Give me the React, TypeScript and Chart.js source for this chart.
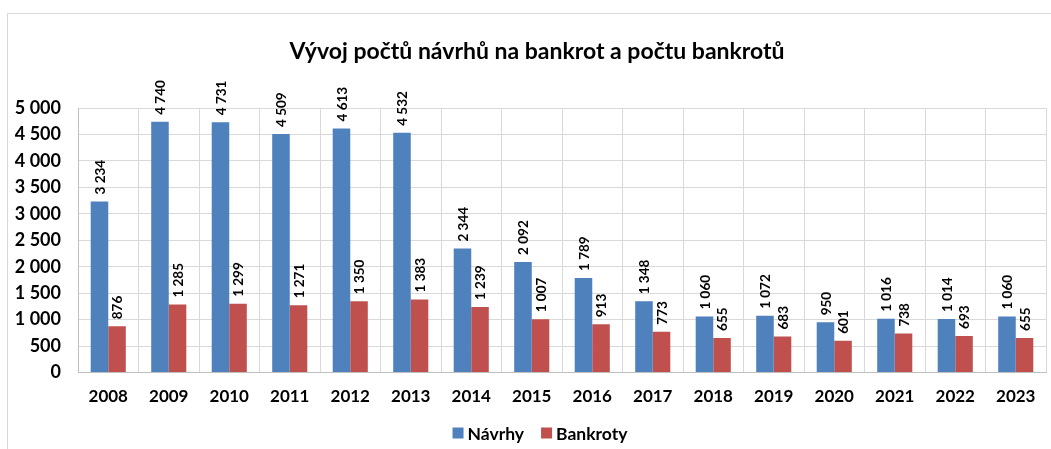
import React, { useEffect, useRef } from "react";
import { Chart, registerables } from "chart.js";

Chart.register(...registerables);

const years = ["2008", "2009", "2010", "2011", "2012", "2013", "2014", "2015", "2016", "2017", "2018", "2019", "2020", "2021", "2022", "2023"];
const navrhy = [3234, 4740, 4731, 4509, 4613, 4532, 2344, 2092, 1789, 1348, 1060, 1072, 950, 1016, 1014, 1060];
const bankroty = [876, 1285, 1299, 1271, 1350, 1383, 1239, 1007, 913, 773, 655, 683, 601, 738, 693, 655];
const titleText = "Vývoj počtů návrhů na bankrot a počtu bankrotů";
const seriesNames = ["Návrhy", "Bankroty"];
const seriesColors = ["#4F81BD", "#C0504D"];

const FONT = "Lato, 'Open Sans', sans-serif";

const fmt = (v: number) => {
  const s = String(Math.round(v));
  return s.replace(/\B(?=(\d{3})+(?!\d))/g, " ");
};

const labelPlugin = {
  id: "barLabels",
  afterDatasetsDraw(chart: any) {
    const ctx = chart.ctx;
    ctx.save();
    ctx.font = `bold 13.5px ${FONT}`;
    ctx.fillStyle = "#000";
    ctx.textAlign = "left";
    ctx.textBaseline = "middle";
    chart.data.datasets.forEach((ds: any, i: number) => {
      const meta = chart.getDatasetMeta(i);
      meta.data.forEach((el: any, j: number) => {
        ctx.save();
        ctx.translate(el.x, el.y - 7);
        ctx.rotate(-Math.PI / 2);
        ctx.fillText(fmt(ds.data[j]), 0, 1);
        ctx.restore();
      });
    });
    ctx.restore();
  },
};

const titleLegendPlugin = {
  id: "titleLegend",
  afterDraw(chart: any) {
    const ctx = chart.ctx;
    ctx.save();
    ctx.font = `bold 23px ${FONT}`;
    ctx.fillStyle = "#000";
    ctx.textAlign = "center";
    ctx.textBaseline = "middle";
    ctx.fillText(titleText, 537, 52);
    ctx.font = `bold 17.5px ${FONT}`;
    ctx.textAlign = "left";
    const box = 11;
    const gapBoxText = 4;
    const gapItems = 17;
    const widths = seriesNames.map((n) => ctx.measureText(n).width);
    const total = widths.reduce((a, w) => a + box + gapBoxText + w, 0) + gapItems * (seriesNames.length - 1);
    let x = 540 - total / 2;
    const cy = 433;
    seriesNames.forEach((n, i) => {
      ctx.fillStyle = seriesColors[i];
      ctx.fillRect(x, cy - box / 2, box, box);
      x += box + gapBoxText;
      ctx.fillStyle = "#000";
      ctx.fillText(n, x, cy + 1);
      x += widths[i] + gapItems;
    });
    ctx.restore();
  },
};

export default function App() {
  const ref = useRef<HTMLCanvasElement>(null);
  useEffect(() => {
    document.body.style.margin = "0";
    const chart = new Chart(ref.current!, {
      type: "bar",
      data: {
        labels: years,
        datasets: [
          { label: seriesNames[0], data: navrhy, backgroundColor: seriesColors[0], categoryPercentage: 0.58, barPercentage: 1 },
          { label: seriesNames[1], data: bankroty, backgroundColor: seriesColors[1], categoryPercentage: 0.58, barPercentage: 1 },
        ],
      },
      options: {
        animation: false,
        responsive: true,
        maintainAspectRatio: false,
        layout: { padding: { left: 0, right: 5, top: 108, bottom: 28 } },
        plugins: {
          title: { display: false },
          legend: { display: false },
          tooltip: { enabled: false },
        },
        scales: {
          x: {
            grid: { color: "#d9d9d9", drawTicks: false, offset: true },
            border: { color: "#bfbfbf" },
            ticks: { color: "#000", font: { family: FONT, size: 17, weight: "bold" }, padding: 14 },
          },
          y: {
            min: 0,
            max: 5000,
            afterFit: (s: any) => { s.width = 78; },
            grid: { color: "#d9d9d9", drawTicks: false },
            border: { color: "#bfbfbf" },
            ticks: {
              stepSize: 500,
              color: "#000",
              padding: 17,
              font: { family: FONT, size: 18, weight: "bold" },
              callback: (v: any) => fmt(Number(v)),
            },
          },
        },
      },
      plugins: [labelPlugin, titleLegendPlugin],
    });
    return () => chart.destroy();
  }, []);
  return (
    <div style={{ position: "relative", width: 1051, height: 449, background: "#fff", overflow: "hidden" }}>
      <div style={{ position: "absolute", left: 7, top: 13, width: 1060, height: 460, border: "1px solid #d9d9d9" }} />
      <div style={{ position: "absolute", left: 0, top: 0, width: 1051, height: 449 }}>
        <canvas ref={ref} />
      </div>
    </div>
  );
}
